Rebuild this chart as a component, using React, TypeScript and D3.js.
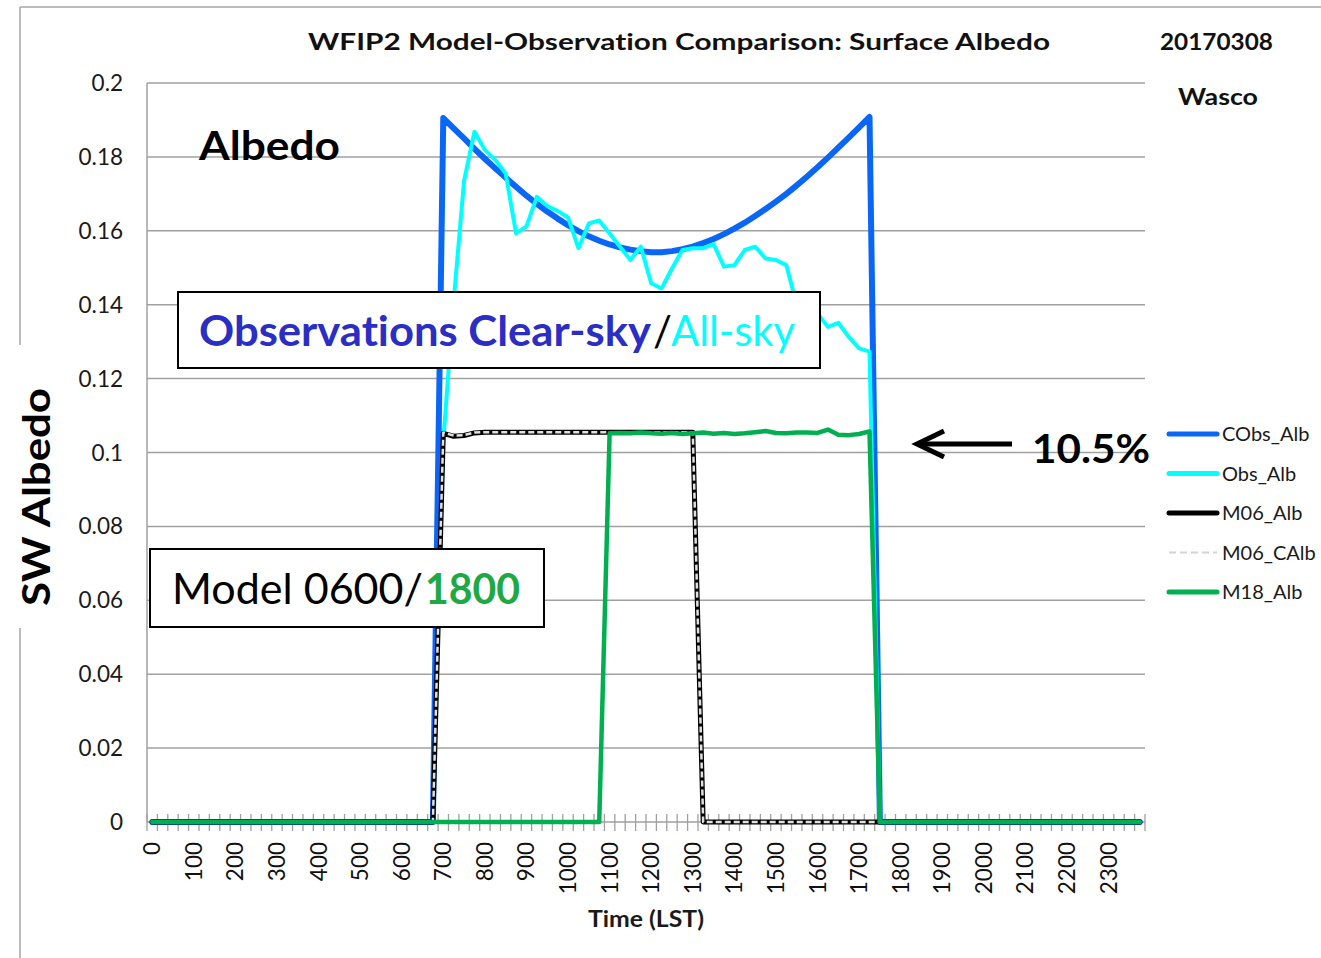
import React from 'react'
import * as d3 from 'd3'

// 15-minute categories, 0000 .. 2345 LST
const TIMES = d3.range(96).map(i => String(Math.floor(i / 4) * 100 + (i % 4) * 15))
const HOUR_LABELS = ['0', '100', '200', '300', '400', '500', '600', '700', '800', '900', '1000', '1100',
  '1200', '1300', '1400', '1500', '1600', '1700', '1800', '1900', '2000', '2100', '2200', '2300']
const Y_TICKS = [0, 0.02, 0.04, 0.06, 0.08, 0.1, 0.12, 0.14, 0.16, 0.18, 0.2]

const COBS_ALB = [
  0, 0, 0, 0, 0, 0, 0, 0, 0, 0, 0, 0,
  0, 0, 0, 0, 0, 0, 0, 0, 0, 0, 0, 0,
  0, 0, 0, 0, 0.1905, 0.1877, 0.185, 0.1822, 0.1795, 0.1769, 0.1744, 0.1719,
  0.1695, 0.1673, 0.1652, 0.1633, 0.1615, 0.1599, 0.1585, 0.1573, 0.1563, 0.1555, 0.1549, 0.1545,
  0.1542, 0.1542, 0.1545, 0.155, 0.1557, 0.1567, 0.1578, 0.1591, 0.1606, 0.1622, 0.164, 0.1659,
  0.1679, 0.17, 0.1723, 0.1747, 0.1772, 0.1798, 0.1825, 0.1852, 0.188, 0.1908, 0, 0,
  0, 0, 0, 0, 0, 0, 0, 0, 0, 0, 0, 0,
  0, 0, 0, 0, 0, 0, 0, 0, 0, 0, 0, 0,
]
const OBS_ALB = [
  0, 0, 0, 0, 0, 0, 0, 0, 0, 0, 0, 0,
  0, 0, 0, 0, 0, 0, 0, 0, 0, 0, 0, 0,
  0, 0, 0, 0, 0.103, 0.141, 0.1735, 0.1868, 0.1819, 0.1792, 0.1755, 0.1593,
  0.1612, 0.1692, 0.1667, 0.1654, 0.1636, 0.1553, 0.162, 0.1628, 0.1593, 0.1557, 0.1521, 0.1557,
  0.1458, 0.1444, 0.1498, 0.1548, 0.1553, 0.1553, 0.1564, 0.1503, 0.1507, 0.1548, 0.1557, 0.1525,
  0.1521, 0.1507, 0.14, 0.1385, 0.1376, 0.134, 0.1351, 0.1313, 0.1282, 0.1273, 0, 0,
  0, 0, 0, 0, 0, 0, 0, 0, 0, 0, 0, 0,
  0, 0, 0, 0, 0, 0, 0, 0, 0, 0, 0, 0,
]
const M06_ALB = [
  0, 0, 0, 0, 0, 0, 0, 0, 0, 0, 0, 0,
  0, 0, 0, 0, 0, 0, 0, 0, 0, 0, 0, 0,
  0, 0, 0, 0, 0.1052, 0.1044, 0.1046, 0.1053, 0.1055, 0.1055, 0.1055, 0.1055,
  0.1055, 0.1055, 0.1055, 0.1055, 0.1055, 0.1055, 0.1055, 0.1055, 0.1055, 0.1055, 0.1055, 0.1055,
  0.1055, 0.1055, 0.1055, 0.1055, 0.1055, 0, 0, 0, 0, 0, 0, 0,
  0, 0, 0, 0, 0, 0, 0, 0, 0, 0, 0, 0,
  0, 0, 0, 0, 0, 0, 0, 0, 0, 0, 0, 0,
  0, 0, 0, 0, 0, 0, 0, 0, 0, 0, 0, 0,
]
const M06_CALB = [
  0, 0, 0, 0, 0, 0, 0, 0, 0, 0, 0, 0,
  0, 0, 0, 0, 0, 0, 0, 0, 0, 0, 0, 0,
  0, 0, 0, 0, 0.1054, 0.1046, 0.1047, 0.1054, 0.1055, 0.1055, 0.1055, 0.1055,
  0.1055, 0.1055, 0.1055, 0.1055, 0.1055, 0.1055, 0.1055, 0.1055, 0.1055, 0.1055, 0.1055, 0.1055,
  0.1055, 0.1055, 0.1055, 0.1055, 0.1055, 0, 0, 0, 0, 0, 0, 0,
  0, 0, 0, 0, 0, 0, 0, 0, 0, 0, 0, 0,
  0, 0, 0, 0, 0, 0, 0, 0, 0, 0, 0, 0,
  0, 0, 0, 0, 0, 0, 0, 0, 0, 0, 0, 0,
]
const M18_ALB = [
  0, 0, 0, 0, 0, 0, 0, 0, 0, 0, 0, 0,
  0, 0, 0, 0, 0, 0, 0, 0, 0, 0, 0, 0,
  0, 0, 0, 0, 0, 0, 0, 0, 0, 0, 0, 0,
  0, 0, 0, 0, 0, 0, 0, 0, 0.1052, 0.1053, 0.1052, 0.1054,
  0.1052, 0.1051, 0.1053, 0.105, 0.1052, 0.1054, 0.1051, 0.1053, 0.105, 0.1052, 0.1055, 0.1058,
  0.1053, 0.1052, 0.1054, 0.1054, 0.1053, 0.1062, 0.1048, 0.1047, 0.105, 0.1057, 0, 0,
  0, 0, 0, 0, 0, 0, 0, 0, 0, 0, 0, 0,
  0, 0, 0, 0, 0, 0, 0, 0, 0, 0, 0, 0,
]

const SERIES = [
  { name: 'CObs_Alb', values: COBS_ALB, color: '#0a66f7', width: 6, dash: null },
  { name: 'Obs_Alb', values: OBS_ALB, color: '#00ffff', width: 4, dash: null },
  { name: 'M06_Alb', values: M06_ALB, color: '#000000', width: 5, dash: null },
  { name: 'M06_CAlb', values: M06_CALB, color: '#e0e0e0', width: 2.5, dash: '6,3' },
  { name: 'M18_Alb', values: M18_ALB, color: '#00b050', width: 4.5, dash: null },
]

const FONT = 'Lato, "Open Sans", sans-serif'

export default function App() {
  const left = 147, right = 1145, top = 83, bottom = 822
  const x = d3.scaleBand<string>().domain(TIMES).range([left, right])
  const bw = x.bandwidth()
  const xc = (t: string) => (x(t) as number) + bw / 2
  const y = d3.scaleLinear().domain([0, 0.2]).range([bottom, top])
  const line = d3.line<number>()
    .x((d, i) => xc(TIMES[i]))
    .y(d => y(d))

  const tickXs = TIMES.map(t => x(t) as number).concat([right])

  return (
    <svg width={1321} height={958} style={{ display: 'block', position: 'absolute', left: 0, top: 0, background: '#fff', fontVariantLigatures: 'none' }}
      fontFamily={FONT}>
      <rect x={0} y={0} width={1321} height={958} fill="#fff" />
      {/* chart area border */}
      <line x1={20} y1={7} x2={1321} y2={7} stroke="#a6a6a6" strokeWidth={1.5} />
      <line x1={20} y1={7} x2={20} y2={958} stroke="#a6a6a6" strokeWidth={1.5} />

      {/* title */}
      <text x={308} y={50} fontSize={23} fontWeight="bold" fill="#111" textLength={742} lengthAdjust="spacingAndGlyphs">
        WFIP2 Model-Observation Comparison: Surface Albedo
      </text>
      <text x={1160} y={50} fontSize={22} fontWeight="bold" fill="#111" textLength={113} lengthAdjust="spacingAndGlyphs">20170308</text>
      <text x={1178} y={105} fontSize={23} fontWeight="bold" fill="#111" textLength={80} lengthAdjust="spacingAndGlyphs">Wasco</text>

      {/* grid */}
      {Y_TICKS.filter(v => v > 0).map(v => (
        <line key={v} x1={left} x2={right} y1={y(v)} y2={y(v)} stroke="#a0a0a0" strokeWidth={1.5} />
      ))}
      <line x1={left} x2={left} y1={top} y2={bottom} stroke="#a0a0a0" strokeWidth={1.5} />
      <line x1={left} x2={right} y1={bottom} y2={bottom} stroke="#a0a0a0" strokeWidth={1.5} />
      {tickXs.map((tx, i) => (
        <line key={i} x1={tx} x2={tx} y1={bottom - 8} y2={bottom + 9} stroke="#a0a0a0" strokeWidth={1.3} />
      ))}

      {/* y tick labels */}
      {Y_TICKS.map(v => (
        <text key={v} x={123} y={y(v) + 8} textAnchor="end" fontSize={22.5} fill="#1a1a1a">{d3.format('~g')(v)}</text>
      ))}

      {/* x tick labels */}
      {HOUR_LABELS.map((lab, i) => {
        const cx = xc(TIMES[i * 4])
        return (
          <text key={lab} transform={`translate(${cx + 8},842) rotate(-90)`} textAnchor="end" fontSize={22.5} fill="#111">{lab}</text>
        )
      })}

      {/* series */}
      {SERIES.map(s => (
        <path key={s.name} d={line(s.values) as string} fill="none" stroke={s.color} strokeWidth={s.width}
          strokeLinejoin="round" strokeLinecap={s.dash ? 'butt' : 'round'} strokeDasharray={s.dash ?? undefined} />
      ))}

      {/* annotations */}
      <text x={199} y={160} fontSize={40} fontWeight="bold" fill="#000" textLength={141} lengthAdjust="spacingAndGlyphs">Albedo</text>

      <rect x={178} y={292} width={642} height={76} fill="#fff" stroke="#000" strokeWidth={2} />
      <text x={199} y={346} fontSize={42} fontWeight="bold" fill="#2a2ec4" textLength={452} lengthAdjust="spacingAndGlyphs">Observations Clear-sky</text>
      <text x={653} y={346} fontSize={42} fill="#000">/</text>
      <text x={671} y={346} fontSize={42} fill="#00ffff" textLength={124} lengthAdjust="spacingAndGlyphs">All-sky</text>

      <rect x={150} y={549} width={394} height={78} fill="#fff" stroke="#000" strokeWidth={2} />
      <text x={172} y={604} fontSize={42} fill="#000" textLength={251} lengthAdjust="spacingAndGlyphs">Model 0600/</text>
      <text x={425} y={604} fontSize={42} fontWeight="bold" fill="#1ea846" textLength={95} lengthAdjust="spacingAndGlyphs">1800</text>

      {/* arrow */}
      <line x1={920} y1={444} x2={1012} y2={444} stroke="#000" strokeWidth={5} />
      <polyline points="944,431 917,444 944,457" fill="none" stroke="#000" strokeWidth={5} strokeLinejoin="miter" />
      <text x={1032} y={463} fontSize={40} fontWeight="bold" fill="#000" textLength={118} lengthAdjust="spacingAndGlyphs">10.5%</text>

      {/* legend */}
      {SERIES.map((s, i) => {
        const ly = 434 + i * 39.5
        return (
          <g key={s.name}>
            <line x1={1169} x2={1217} y1={ly} y2={ly} stroke={s.dash ? '#d4d4d4' : s.color} strokeWidth={s.dash ? 2 : 5}
              strokeLinecap={s.dash ? 'butt' : 'round'} strokeDasharray={s.dash ? '7,4' : undefined} />
            <text x={1222} y={ly + 7} fontSize={20} fill="#1a1a1a">{s.name}</text>
          </g>
        )
      })}

      {/* axis titles */}
      <rect x={12} y={345} width={16} height={283} fill="#fff" />
      <text transform="translate(50,497) rotate(-90)" textAnchor="middle" fontSize={38} fontWeight="bold" fill="#000"
        textLength={218} lengthAdjust="spacingAndGlyphs">SW Albedo</text>
      <text x={646} y={927} textAnchor="middle" fontSize={23} fontWeight="bold" fill="#1a1a1a" textLength={116} lengthAdjust="spacingAndGlyphs">Time (LST)</text>
    </svg>
  )
}
